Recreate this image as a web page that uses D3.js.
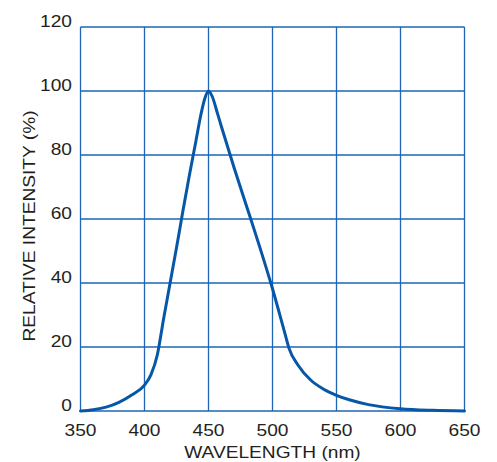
<!DOCTYPE html>
<html><head><meta charset="utf-8">
<script src="https://cdn.jsdelivr.net/npm/d3@7"></script>
<style>
html,body{margin:0;padding:0;background:#fff;}
text{font-family:"Liberation Sans",Arial,sans-serif;fill:#231f20;}
</style></head>
<body><svg id="c" width="497" height="462"></svg>
<script>
const wavelength = [350,360,370,380,390,400,405,410,415,420,425,430,435,440,444,447,450,453,457,460,470,480,490,500,510,513,520,530,540,550,560,575,600,625,650];
const intensity  = [0,0.4,1.2,2.7,5.0,8.1,11.3,17.5,29,40,51,62.5,73.5,84,92.5,97.5,100,98.2,93,89,76,63.7,51.3,38.2,23.8,19.5,14.3,9.6,6.8,4.9,3.5,2.0,0.7,0.2,0];
const xTicks = [350,400,450,500,550,600,650];
const yTicks = [0,20,40,60,80,100,120];
const xTitle = "WAVELENGTH (nm)";
const yTitle = "RELATIVE INTENSITY (%)";

const svg = d3.select("#c");
const L = 80.5, R = 464.5, T = 27, B = 411;
const x = d3.scaleLinear().domain([350,650]).range([L,R]);
const y = d3.scaleLinear().domain([0,120]).range([B,T]);
const gridColor = "#1f65b4";
const stretch = 1.16;

function widen(sel){
  sel.each(function(){
    const w = this.getComputedTextLength();
    d3.select(this).attr("textLength", w*stretch).attr("lengthAdjust","spacingAndGlyphs");
  });
}

// grid
svg.append("g").selectAll("line").data(xTicks).join("line")
  .attr("x1",d=>x(d)).attr("x2",d=>x(d)).attr("y1",T).attr("y2",B)
  .attr("stroke",gridColor).attr("stroke-width",1.3);
svg.append("g").selectAll("line").data(yTicks).join("line")
  .attr("y1",d=>y(d)).attr("y2",d=>y(d)).attr("x1",L).attr("x2",R)
  .attr("stroke",gridColor).attr("stroke-width",1.3);

// tick labels
const xl = svg.append("g").selectAll("text").data(xTicks).join("text")
  .attr("x",d=>x(d)).attr("y",435.5).attr("text-anchor","middle")
  .attr("font-size",16.5).text(d=>d);
widen(xl);
xl.each(function(d){ const w=+d3.select(this).attr("textLength"); d3.select(this).attr("text-anchor","start").attr("x",x(d)-w/2); });

const yl = svg.append("g").selectAll("text").data(yTicks).join("text")
  .attr("y",d=>y(d)).attr("font-size",16.5).text(d=>d);
widen(yl);
yl.each(function(){ const w=+d3.select(this).attr("textLength"); d3.select(this).attr("x",72-w); });

// titles
const xt = svg.append("text").attr("y",457.7).attr("font-size",16.5).text(xTitle);
widen(xt);
xt.attr("x", (L+R)/2 - (+xt.attr("textLength"))/2);

const yt = svg.append("text").attr("font-size",16.5).text(yTitle);
widen(yt);
const ytl = +yt.attr("textLength");
yt.attr("transform",`translate(35,${226+ytl/2}) rotate(-90)`);

// curve
const line = d3.line().x((d,i)=>x(wavelength[i])).y(d=>y(d)).curve(d3.curveMonotoneX);
svg.append("path").datum(intensity).attr("d",line)
  .attr("fill","none").attr("stroke","#0657a8").attr("stroke-width",3)
  .attr("stroke-linejoin","round").attr("stroke-linecap","round");
</script></body></html>
